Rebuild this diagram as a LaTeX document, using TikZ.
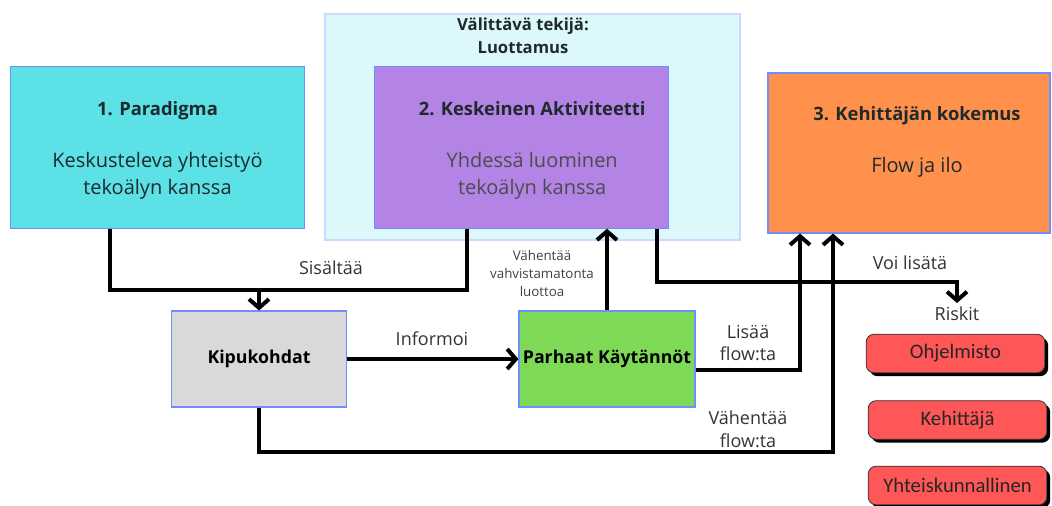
\documentclass[tikz,border=0pt]{standalone}
\usepackage{fontspec}
\setmainfont{Open Sans}
\newfontfamily\riskfont{Carlito}
\usetikzlibrary{arrows.meta,positioning,calc,shadows}

\definecolor{cyanbox}{HTML}{5CE1E6}
\definecolor{purplebox}{HTML}{B383E6}
\definecolor{orangebox}{HTML}{FF914D}
\definecolor{graybox}{HTML}{D9D9D9}
\definecolor{greenbox}{HTML}{7ED957}
\definecolor{redbox}{HTML}{FF5757}
\definecolor{trustfill}{HTML}{DDF8FA}
\definecolor{trustline}{HTML}{CCD9FF}
\definecolor{edgeblue}{HTML}{6E8EFF}
\definecolor{textdark}{HTML}{1F2A2C}

\newcommand\boxtitlefont{\fontsize{13.8}{20}\selectfont\bfseries}

\begin{document}
\begin{tikzpicture}[
      x=0.75pt, y=-0.75pt,
      box/.style={draw=edgeblue, line width=0.8pt, inner sep=0pt},
      boxtext/.style={align=center, inner sep=0pt, text=textdark, font=\fontsize{15}{20}\selectfont},
      small/.style={draw=edgeblue, line width=0.8pt, align=center, inner sep=0pt, minimum width=131pt, minimum height=72pt,
        text=black, font=\fontsize{13.3}{16}\selectfont\bfseries},
      risk/.style={draw=black!80, line width=0.6pt, fill=redbox, rounded corners=6pt, minimum width=134pt, minimum height=29pt,
        inner sep=0pt, font=\riskfont\fontsize{15.5}{18}\selectfont, text=black!85,
        drop shadow={shadow xshift=2.5pt, shadow yshift=-2.5pt, fill=black, opacity=1}},
      lbl/.style={align=center, inner sep=3pt, text=black!80, font=\fontsize{13.5}{17}\selectfont},
      line/.style={line width=3pt, black},
      >={Straight Barb[length=6.5pt, width=15pt]}
    ]
    \useasboundingbox (0,0) rectangle (1052,506);

    % Mediating factor
    \node[draw=trustline, line width=1.5pt, fill=trustfill, minimum width=311pt, minimum height=169.5pt] (luottamus) at (532.5,127) {};
    \node[align=center, text=textdark, font=\fontsize{12.5}{17}\selectfont\bfseries] (luottamusotsikko) at (523,36) {Välittävä tekijä:\\Luottamus};

    % Main boxes
    \node[box, fill=cyanbox, minimum width=221pt, minimum height=121pt] (paradigma) at (157.5,147.5) {};
    \node[boxtext] (paradigmateksti) at ([yshift=-2pt]paradigma.center)
      {{\boxtitlefont 1. Paradigma}\\[19pt]Keskusteleva yhteistyö\\tekoälyn kanssa};
    \node[box, fill=purplebox, minimum width=220pt, minimum height=121pt] (aktiviteetti) at (521.5,147.5) {};
    \node[boxtext] (aktiviteettiteksti) at ([xshift=8pt, yshift=-2pt]aktiviteetti.center)
      {{\boxtitlefont 2. Keskeinen Aktiviteetti}\\[19pt]{\color{black!70}Yhdessä luominen}\\{\color{black!70}tekoälyn kanssa}};
    \node[box, fill=orangebox, minimum width=211.5pt, minimum height=120pt] (kokemus) at (909,153) {};
    \node[boxtext] (kokemusteksti) at ([xshift=6pt, yshift=8pt]kokemus.center)
      {{\boxtitlefont 3. Kehittäjän kokemus}\\[19pt]Flow ja ilo};

    % Lower boxes
    \node[small, fill=graybox] (kipu) at (259,359) {Kipukohdat};
    \node[small, fill=greenbox, minimum width=132pt] (kaytannot) at (607,359) {Parhaat Käytännöt};

    % Risks
    \node[lbl, anchor=north] (riskit) at (957,303) {Riskit};
    \node[risk] (ohjelmisto) at (955.5,353.5) {Ohjelmisto};
    \node[risk] (kehittaja) at (957.5,420) {Kehittäjä};
    \node[risk] (yhteiskunta) at (957.5,485.5) {Yhteiskunnallinen};

    % Connectors
    \coordinate (parJ) at (110,290);
    \coordinate (aktJ) at (467,290);
    \draw[line] (paradigma.south -| parJ) -- (parJ) -- (aktJ) -- (aktiviteetti.south -| aktJ);
    \draw[line, ->] (kipu.north |- parJ) -- (kipu.north);
    \node[lbl] (sisaltaa) at (331,268) {Sisältää};

    \draw[line, ->] (kipu.east) -- (kaytannot.west);
    \node[lbl] (informoi) at (432,339) {Informoi};

    \draw[line, ->] (kaytannot.north) -- (aktiviteetti.south -| kaytannot.north);
    \node[lbl, text=black!75, font=\fontsize{10}{13.5}\selectfont] (vahvistamaton) at (542,273) {Vähentää\\vahvistamatonta\\luottoa};

    \coordinate (riskJ) at (657,282);
    \draw[line, ->] (aktiviteetti.south -| riskJ) |- (riskit.north |- riskJ) -- (riskit.north);
    \node[lbl] (voilisata) at (910,263) {Voi lisätä};

    \coordinate (lisJ) at (800,370);
    \draw[line, ->] (kaytannot.east |- lisJ) -| (kokemus.south -| lisJ);
    \node[lbl] (lisaa) at (748,343) {Lisää\\flow:ta};

    \coordinate (vahJ) at (833,452);
    \draw[line, ->] (kipu.south) |- (vahJ) -- (kokemus.south -| vahJ);
    \node[lbl] (vahentaa) at (748,429) {Vähentää\\flow:ta};

    \end{tikzpicture}
\end{document}
